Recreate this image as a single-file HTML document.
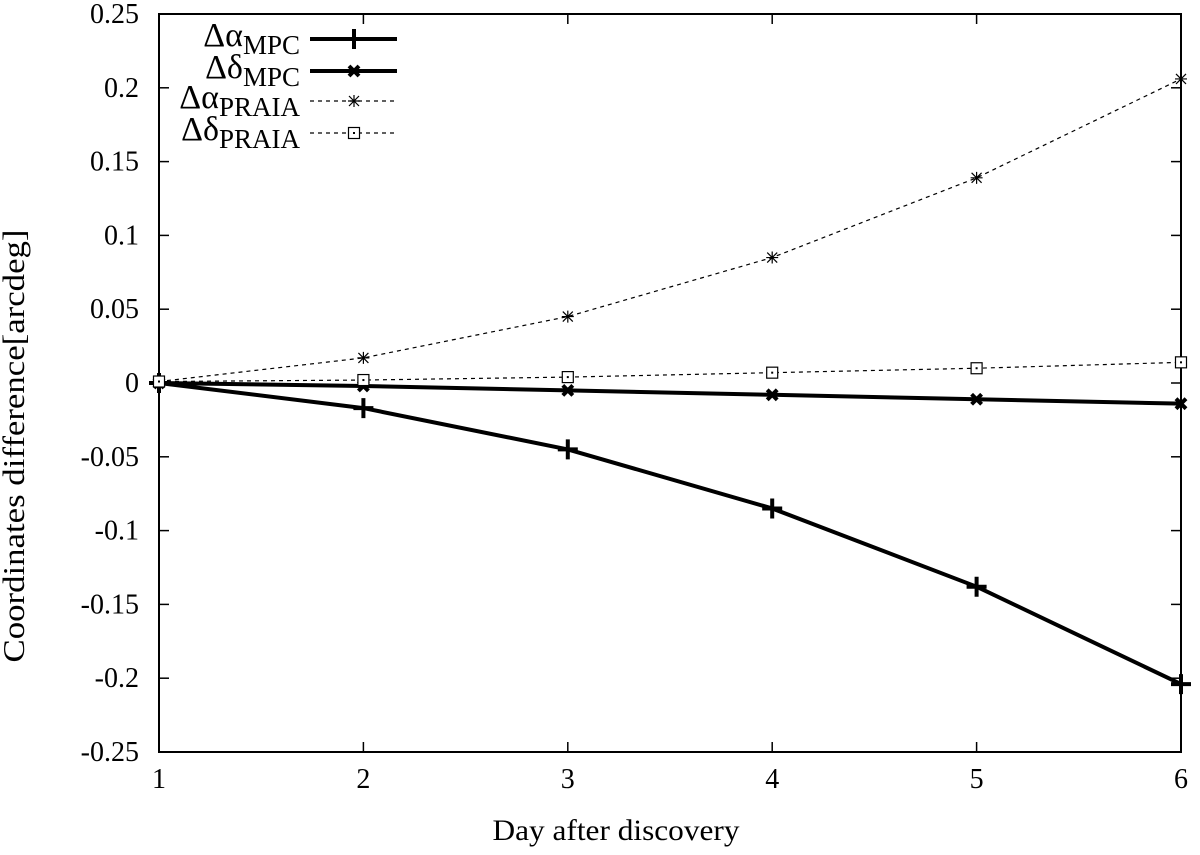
<!DOCTYPE html>
<html><head><meta charset="utf-8"><style>
html,body{margin:0;padding:0;background:#fff}
svg text{font-family:"Liberation Serif",serif;fill:#000}
</style></head><body>
<svg width="1200" height="850" viewBox="0 0 1200 850">
<g id="axes"></g>
<g id="series"></g>
<g id="legend"></g>
</svg>
<script>
const days=[1,2,3,4,5,6];
const alphaMPC=[0,-0.017,-0.045,-0.085,-0.138,-0.204];
const deltaMPC=[0,-0.002,-0.005,-0.008,-0.011,-0.014];
const alphaPRAIA=[0.001,0.017,0.045,0.085,0.139,0.206];
const deltaPRAIA=[0.001,0.002,0.004,0.007,0.010,0.014];
const yTicks=[-0.25,-0.2,-0.15,-0.1,-0.05,0,0.05,0.1,0.15,0.2,0.25];
const yTickLabels=["-0.25","-0.2","-0.15","-0.1","-0.05","0","0.05","0.1","0.15","0.2","0.25"];
const xTicks=[1,2,3,4,5,6];

const L=159,R=1181,T=14,B=752;
const NS="http://www.w3.org/2000/svg";
function xs(v){return L+(v-1)/5*(R-L);}
function ys(v){return B-(v+0.25)/0.5*(B-T);}
function mk(tag,attrs,parent){const e=document.createElementNS(NS,tag);for(const k in attrs)e.setAttribute(k,attrs[k]);parent.appendChild(e);return e;}
const ax=document.getElementById('axes'),se=document.getElementById('series'),lg=document.getElementById('legend');

yTicks.forEach((t,i)=>{
  const y=ys(t);
  const a=mk('line',{x1:L,x2:L+10,y1:y,y2:y,stroke:'#000','stroke-width':1.5},ax);
  
  
  mk('line',{x1:R-10,x2:R,y1:y,y2:y,stroke:'#000','stroke-width':1.5},ax);
  const tx=mk('text',{x:L-20,y:y+9,'text-anchor':'end','font-size':28},ax);
  tx.textContent=yTickLabels[i];
  
  
});
xTicks.forEach(t=>{
  const x=xs(t);
  const a=mk('line',{x1:x,x2:x,y1:B,y2:B-10,stroke:'#000','stroke-width':1.5},ax);
  
  
  mk('line',{x1:x,x2:x,y1:T,y2:T+10,stroke:'#000','stroke-width':1.5},ax);
  const tx=mk('text',{x:x,y:B+36,'text-anchor':'middle','font-size':28},ax);
  tx.textContent=String(t);
  
  
});
const fr=mk('rect',{x:L,y:T,width:R-L,height:B-T,fill:'none',stroke:'#000','stroke-width':2},ax);


const xt=mk('text',{x:616,y:840,'text-anchor':'middle','font-size':30,textLength:247,lengthAdjust:'spacingAndGlyphs'},ax);
xt.textContent='Day after discovery';


const yt=mk('text',{x:0,y:0,'text-anchor':'middle','font-size':31,textLength:433,lengthAdjust:'spacingAndGlyphs',transform:'translate(24,446) rotate(-90)'},ax);
yt.textContent='Coordinates difference[arcdeg]';



function marker(type,x,y,g){
  if(type==='plus'){
    mk('path',{d:`M${x-10},${y}H${x+10}M${x},${y-10}V${y+10}`,stroke:'#000','stroke-width':4,fill:'none'},g);
  }else if(type==='x'){
    mk('path',{d:`M${x-5},${y-5}L${x+5},${y+5}M${x-5},${y+5}L${x+5},${y-5}`,stroke:'#000','stroke-width':4,fill:'none'},g);
  }else if(type==='star'){
    mk('path',{d:`M${x-6},${y}H${x+6}M${x},${y-6}V${y+6}M${x-5},${y-5}L${x+5},${y+5}M${x-5},${y+5}L${x+5},${y-5}`,stroke:'#000','stroke-width':1.2,fill:'none'},g);
  }else{
    mk('rect',{x:x-5.5,y:y-5.5,width:11,height:11,fill:'#fff',stroke:'#000','stroke-width':1.2},g);
    mk('rect',{x:x-1,y:y-1,width:2,height:2,fill:'#000'},g);
  }
}
const series=[
 {name:'alpha-mpc',vals:alphaMPC,w:4,dash:null,m:'plus',lab:'α',sub:'MPC',ly:39},
 {name:'delta-mpc',vals:deltaMPC,w:4,dash:null,m:'x',lab:'δ',sub:'MPC',ly:71},
 {name:'alpha-praia',vals:alphaPRAIA,w:1.2,dash:'4,4',m:'star',lab:'α',sub:'PRAIA',ly:101},
 {name:'delta-praia',vals:deltaPRAIA,w:1.2,dash:'4,4',m:'box',lab:'δ',sub:'PRAIA',ly:133}
];
series.forEach(s=>{
  const g=mk('g',{},se);
  
  
  const pts=days.map((d,i)=>xs(d)+','+ys(s.vals[i])).join(' ');
  const pl=mk('polyline',{points:pts,fill:'none',stroke:'#000','stroke-width':s.w,'stroke-linejoin':'round'},g);
  if(s.dash)pl.setAttribute('stroke-dasharray',s.dash);
  days.forEach((d,i)=>marker(s.m,xs(d),ys(s.vals[i]),g));
  const e=mk('g',{},lg);
  
  
  const ln=mk('line',{x1:310,x2:397,y1:s.ly,y2:s.ly,stroke:'#000','stroke-width':s.w},e);
  if(s.dash)ln.setAttribute('stroke-dasharray',s.dash);
  marker(s.m,354,s.ly,e);
  const t=mk('text',{x:300,y:s.ly+7,'text-anchor':'end','font-size':34},e);
  t.innerHTML='Δ'+s.lab+'<tspan dy="8" font-size="27">'+s.sub+'</tspan>';
});
</script>
</body></html>
